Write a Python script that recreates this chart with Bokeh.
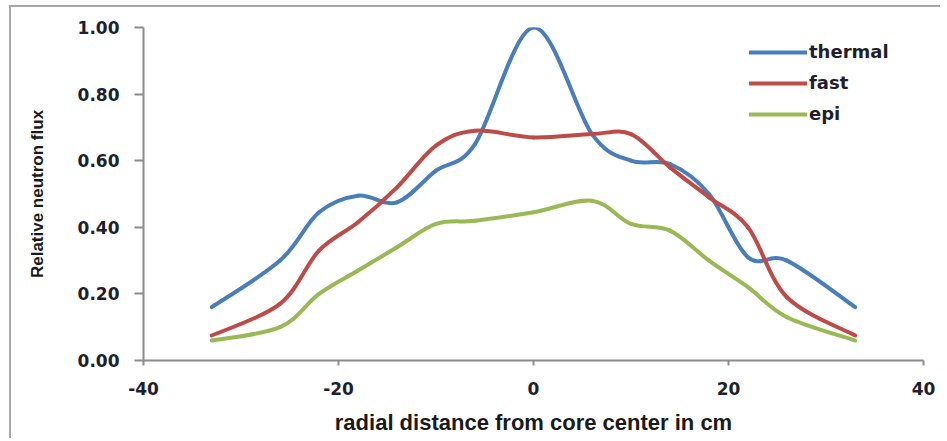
import numpy as np
from bokeh.plotting import figure
from bokeh.models import FixedTicker, Legend, LegendItem, ColumnDataSource
from bokeh.embed import file_html
from bokeh.resources import INLINE

# ---- data ----
distance_cm = [-33, -26, -22, -18, -14, -10, -6, 0, 6, 10, 14, 18, 22, 26, 33]
thermal = [0.16, 0.30, 0.445, 0.495, 0.475, 0.57, 0.65, 1.00, 0.68, 0.60, 0.59, 0.50, 0.31, 0.30, 0.16]
fast = [0.075, 0.17, 0.33, 0.415, 0.52, 0.645, 0.69, 0.67, 0.68, 0.68, 0.58, 0.49, 0.40, 0.19, 0.075]
epi = [0.06, 0.10, 0.20, 0.27, 0.34, 0.41, 0.42, 0.445, 0.48, 0.41, 0.39, 0.30, 0.22, 0.13, 0.06]

series_names = ["thermal", "fast", "epi"]
series_colors = ["#4A7EBB", "#BE4B48", "#98B954"]

x_ticks = [-40, -20, 0, 20, 40]
x_tick_labels = ["-40", "-20", "0", "20", "40"]
y_ticks = [0.0, 0.2, 0.4, 0.6, 0.8, 1.0]
y_tick_labels = ["0.00", "0.20", "0.40", "0.60", "0.80", "1.00"]

x_title = "radial distance from core center in cm"
y_title = "Relative neutron flux"


def smooth_segments(xs, ys):
    """Bezier segments (Excel-style smoothed line) through the data points."""
    x = np.asarray(xs, float)
    y = np.asarray(ys, float)
    n = len(x)
    xp = np.concatenate([[x[0]], x, [x[-1]]])
    yp = np.concatenate([[y[0]], y, [y[-1]]])
    return dict(
        x0=x[:-1], y0=y[:-1], x1=x[1:], y1=y[1:],
        cx0=x[:-1] + (xp[2:n + 1] - xp[0:n - 1]) / 6.0,
        cy0=y[:-1] + (yp[2:n + 1] - yp[0:n - 1]) / 6.0,
        cx1=x[1:] - (xp[3:n + 2] - xp[1:n]) / 6.0,
        cy1=y[1:] - (yp[3:n + 2] - yp[1:n]) / 6.0,
    )


p = figure(
    width=931, height=433,
    x_range=(-40, 40), y_range=(0, 1.0),
    output_backend="svg", toolbar_location=None,
    min_border_left=132, min_border_right=19,
    min_border_top=20, min_border_bottom=80,
)
p.outline_line_color = None
p.xgrid.visible = False
p.ygrid.visible = False
p.background_fill_color = "white"
p.border_fill_color = "white"
p.styles = {"margin-left": "9px", "margin-top": "5px",
            "border-left": "2px solid #a6a6a6", "border-top": "2px solid #a6a6a6"}

items = []
for name, vals, col in zip(series_names, [thermal, fast, epi], series_colors):
    seg = smooth_segments(distance_cm, vals)
    r = p.bezier(x0="x0", y0="y0", x1="x1", y1="y1", cx0="cx0", cy0="cy0",
                 cx1="cx1", cy1="cy1", source=ColumnDataSource(seg),
                 line_color=col, line_width=4, line_cap="round")
    items.append(LegendItem(label=name, renderers=[r]))

legend = Legend(items=items, location=(606, 236), orientation="vertical")
legend.background_fill_alpha = 0
legend.border_line_color = None
legend.padding = 0
legend.margin = 0
legend.spacing = 10
legend.glyph_width = 58
legend.glyph_height = 20
legend.label_height = 20
legend.label_standoff = 2
legend.label_text_font = "DejaVu Sans"
legend.label_text_font_style = "bold"
legend.label_text_font_size = "18px"
legend.label_text_color = "#1e1e2e"
p.add_layout(legend)

axis_color = "#8c8c8c"
label_color = "#1e1e2e"

xa = p.xaxis[0]
xa.ticker = FixedTicker(ticks=x_ticks)
xa.major_label_overrides = {t: s for t, s in zip(x_ticks, x_tick_labels)}
xa.minor_tick_line_color = None
xa.axis_line_color = axis_color
xa.axis_line_width = 2
xa.major_tick_line_color = axis_color
xa.major_tick_line_width = 2
xa.major_tick_out = 5
xa.major_tick_in = 0
xa.major_label_standoff = 16
xa.major_label_text_font = "DejaVu Sans"
xa.major_label_text_font_style = "bold"
xa.major_label_text_font_size = "17px"
xa.major_label_text_color = label_color
xa.axis_label = x_title
xa.axis_label_text_font = "Liberation Sans"
xa.axis_label_text_font_style = "bold"
xa.axis_label_text_font_size = "22px"
xa.axis_label_text_color = "#1a1a1a"
xa.axis_label_standoff = 12

ya = p.yaxis[0]
ya.ticker = FixedTicker(ticks=y_ticks)
ya.major_label_overrides = {t: s for t, s in zip(y_ticks, y_tick_labels)}
ya.minor_tick_line_color = None
ya.axis_line_color = axis_color
ya.axis_line_width = 2
ya.major_tick_line_color = axis_color
ya.major_tick_line_width = 2
ya.major_tick_out = 9
ya.major_tick_in = 0
ya.major_label_standoff = 15
ya.major_label_text_font = "DejaVu Sans"
ya.major_label_text_font_style = "bold"
ya.major_label_text_font_size = "17px"
ya.major_label_text_color = label_color
ya.axis_label = y_title
ya.axis_label_text_font = "Liberation Sans"
ya.axis_label_text_font_style = "bold"
ya.axis_label_text_font_size = "17px"
ya.axis_label_text_color = "#1a1a1a"
ya.axis_label_standoff = 28

open("out.html", "w").write(file_html(p, INLINE))
